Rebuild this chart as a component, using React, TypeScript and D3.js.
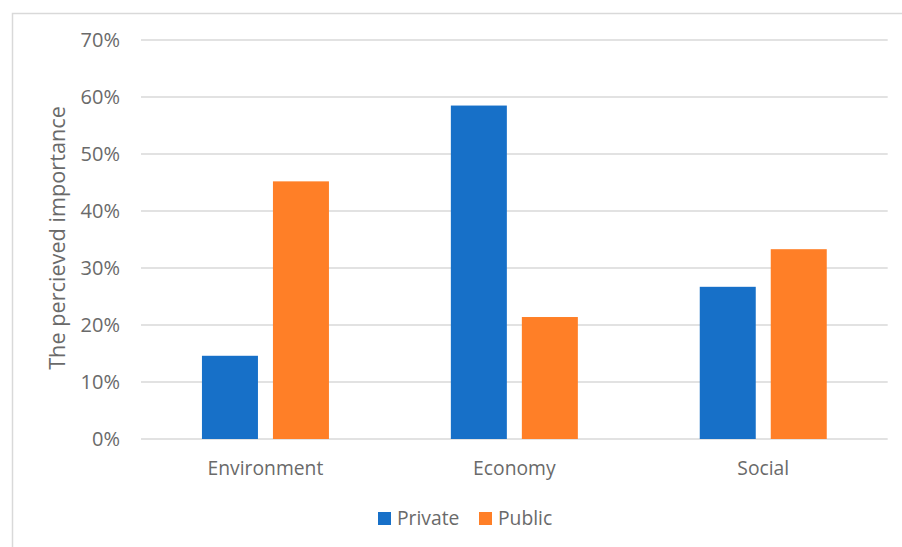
import React from "react";
import * as d3 from "d3";

const categories = ["Environment", "Economy", "Social"];
const seriesNames = ["Private", "Public"];
const privateValues = [0.146, 0.585, 0.267];
const publicValues = [0.452, 0.214, 0.333];
const yTicks = [0, 0.1, 0.2, 0.3, 0.4, 0.5, 0.6, 0.7];
const colors = ["#1770C8", "#FF7F27"];

export default function App() {
  const W = 902, H = 547;
  const left = 141, right = 887.7, top = 40, bottom = 439;
  const font = "'Open Sans', sans-serif";
  const textColor = "#6a6a6a";
  const y = d3.scaleLinear().domain([0, 0.7]).range([bottom, top]);
  const x0 = d3.scaleBand<string>().domain(categories).range([left, right]);
  const series = [privateValues, publicValues];
  const barW = 56, gap = 15;
  const fmt = d3.format(".0%");
  return (
    <svg width={W} height={H} style={{ position: "absolute", left: 0, top: 0 }}>
      <rect x={0} y={0} width={W} height={H} fill="#fff" />
      <rect x={12.5} y={13.5} width={W + 20} height={H + 20} fill="none" stroke="#d9d9d9" strokeWidth={1.5} />
      {yTicks.map((t) => (
        <g key={t}>
          <line x1={left} x2={right} y1={y(t)} y2={y(t)} stroke="#d9d9d9" strokeWidth={1.3} />
          <text x={120} y={y(t)} dy="0.36em" textAnchor="end" fontFamily={font} fontSize={20} fill={textColor}>
            {fmt(t)}
          </text>
        </g>
      ))}
      {categories.map((c, i) => {
        const cx = (x0(c) as number) + x0.bandwidth() / 2;
        return (
          <g key={c}>
            {series.map((vals, s) => {
              const bx = s === 0 ? cx - gap / 2 - barW : cx + gap / 2;
              return (
                <rect key={s} x={bx} y={y(vals[i])} width={barW} height={y(0) - y(vals[i])} fill={colors[s]} />
              );
            })}
            <text x={cx} y={475} textAnchor="middle" fontFamily={font} fontSize={19.3} fill={textColor}>
              {c}
            </text>
          </g>
        );
      })}
      <text
        transform={`translate(65, 238) rotate(-90)`}
        textAnchor="middle"
        fontFamily={font}
        fontSize={21.7}
        fill={textColor}
      >
        The percieved importance
      </text>
      {seriesNames.map((n, s) => {
        const lx = s === 0 ? 378 : 479;
        return (
          <g key={n}>
            <rect x={lx} y={512} width={13} height={13} fill={colors[s]} />
            <text x={lx + 19} y={524.5} fontFamily={font} fontSize={19.3} fill={textColor}>
              {n}
            </text>
          </g>
        );
      })}
    </svg>
  );
}
